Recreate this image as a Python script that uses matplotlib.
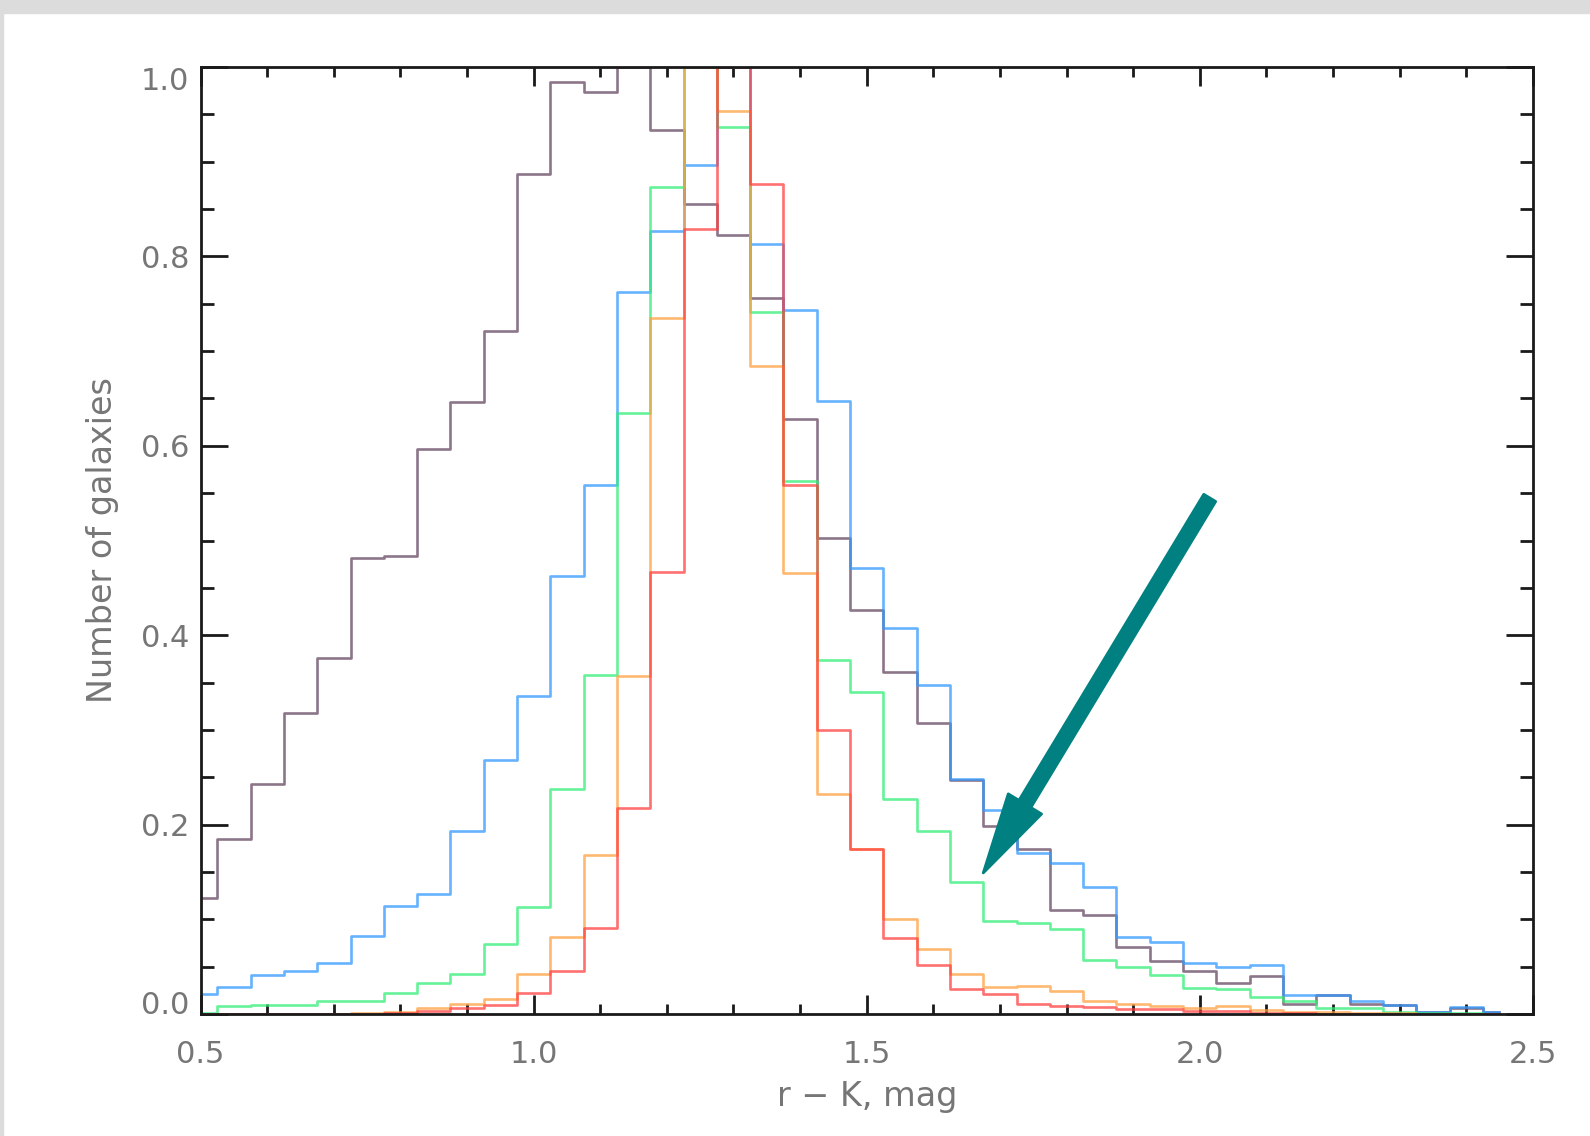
import numpy as np
import matplotlib.pyplot as plt
from matplotlib.patches import Rectangle
from matplotlib.ticker import MultipleLocator

# bin centres of r - K colour (mag), IDL-style histogram (psym=10)
r_k = [0.50, 0.55, 0.60, 0.65, 0.70, 0.75, 0.80, 0.85, 0.90, 0.95,
       1.00, 1.05, 1.10, 1.15, 1.20, 1.25, 1.30, 1.35, 1.40, 1.45,
       1.50, 1.55, 1.60, 1.65, 1.70, 1.75, 1.80, 1.85, 1.90, 1.95,
       2.00, 2.05, 2.10, 2.15, 2.20, 2.25, 2.30, 2.35, 2.40, 2.45]

# normalised counts, one list per subsample
purple = [0.122, 0.185, 0.243, 0.318, 0.376, 0.482, 0.484, 0.597, 0.646, 0.721,
          0.887, 0.984, 0.974, 1.000, 0.934, 0.855, 0.823, 0.756, 0.628, 0.503,
          0.427, 0.361, 0.307, 0.247, 0.198, 0.174, 0.110, 0.105, 0.071, 0.056,
          0.045, 0.033, 0.040, 0.011, 0.020, 0.011, 0.009, 0.002, 0.006, 0.002]
blue = [0.021, 0.028, 0.041, 0.045, 0.054, 0.082, 0.114, 0.127, 0.193, 0.268,
        0.336, 0.463, 0.559, 0.762, 0.827, 0.897, 1.000, 0.813, 0.743, 0.647,
        0.471, 0.408, 0.347, 0.248, 0.215, 0.170, 0.159, 0.134, 0.081, 0.076,
        0.054, 0.050, 0.052, 0.020, 0.020, 0.014, 0.010, 0.002, 0.007, 0.002]
green = [0.001, 0.008, 0.010, 0.010, 0.014, 0.014, 0.022, 0.033, 0.042, 0.074,
         0.113, 0.238, 0.358, 0.635, 0.873, 1.000, 0.937, 0.741, 0.563, 0.374,
         0.340, 0.227, 0.193, 0.139, 0.098, 0.096, 0.090, 0.057, 0.050, 0.041,
         0.027, 0.026, 0.018, 0.014, 0.006, 0.006, 0.002, 0.001, 0.001, 0.000]
orange = [0.000, 0.000, 0.000, 0.000, 0.000, 0.001, 0.002, 0.006, 0.011, 0.016,
          0.042, 0.081, 0.168, 0.357, 0.735, 1.000, 0.954, 0.684, 0.466, 0.232,
          0.174, 0.100, 0.069, 0.042, 0.028, 0.030, 0.024, 0.014, 0.011, 0.008,
          0.006, 0.008, 0.004, 0.002, 0.002, 0.001, 0.001, 0.000, 0.000, 0.000]
red = [0.000, 0.000, 0.000, 0.000, 0.000, 0.000, 0.001, 0.003, 0.006, 0.010,
       0.022, 0.045, 0.091, 0.218, 0.467, 0.829, 1.000, 0.877, 0.559, 0.300,
       0.174, 0.080, 0.052, 0.026, 0.021, 0.011, 0.008, 0.007, 0.005, 0.005,
       0.003, 0.003, 0.001, 0.001, 0.000, 0.000, 0.000, 0.000, 0.000, 0.000]

series = [purple, blue, green, orange, red]
colors = ["#654862", "#3399ff", "#33ee77", "#ffa040", "#ff4040"]

x_ticks = [0.5, 1.0, 1.5, 2.0, 2.5]
y_ticks = [0.0, 0.2, 0.4, 0.6, 0.8, 1.0]

# arrow annotation (tail -> tip), data coords
arrow_tail = (2.015, 0.545)
arrow_tip = (1.675, 0.149)

label_grey = "#767676"
plt.rcParams["font.family"] = ["DejaVu Sans"]

fig = plt.figure(figsize=(15.9, 11.36), dpi=100)
ax = fig.add_axes([0.1262, 0.1074, 0.8378, 0.8336])

for vals, c in zip(series, colors):
    ax.plot(r_k, vals, drawstyle="steps-mid", color=c, lw=1.9, alpha=0.75)

ax.set_xlim(0.5, 2.5)
ax.set_ylim(0.0, 1.0)
ax.set_xticks(x_ticks)
ax.set_yticks(y_ticks)
ax.set_xticklabels([f"{v:.1f}" for v in x_ticks])
ax.set_yticklabels([f"{v:.1f}" for v in y_ticks])
ax.xaxis.set_minor_locator(MultipleLocator(0.1))
ax.yaxis.set_minor_locator(MultipleLocator(0.05))

ax.tick_params(which="both", direction="in", top=True, right=True,
               color="#1a1a1a", width=2, labelcolor=label_grey, labelsize=22)
ax.tick_params(axis="x", which="major", length=13.7, pad=19)
ax.tick_params(axis="x", which="minor", length=7)
ax.tick_params(axis="y", which="major", length=19.4, pad=8)
ax.tick_params(axis="y", which="minor", length=9.4)

# IDL keeps the end labels inside the frame
ylabs = ax.get_yticklabels()
ylabs[0].set_va("baseline")
ylabs[-1].set_va("top")

for sp in ax.spines.values():
    sp.set_linewidth(2)
    sp.set_color("#1a1a1a")

ax.set_xlabel("r − K, mag", fontsize=24, color=label_grey, labelpad=8)
ax.set_ylabel("Number of galaxies", fontsize=24, color=label_grey, labelpad=16)

ax.annotate("", xy=arrow_tip, xytext=arrow_tail,
            arrowprops=dict(arrowstyle="simple,head_length=5.8,head_width=2.8,tail_width=1.0",
                            mutation_scale=10, color="#008080", lw=2,
                            joinstyle="round", shrinkA=0, shrinkB=0))

# screenshot border (grey strip on top and left)
fig.patches.append(Rectangle((0, 1 - 13 / 1136), 1, 13 / 1136, transform=fig.transFigure,
                             color="#dcdcdc", zorder=0))
fig.patches.append(Rectangle((0, 0), 3 / 1590, 1, transform=fig.transFigure,
                             color="#dcdcdc", zorder=0))

fig.savefig("out.png", dpi=100)
